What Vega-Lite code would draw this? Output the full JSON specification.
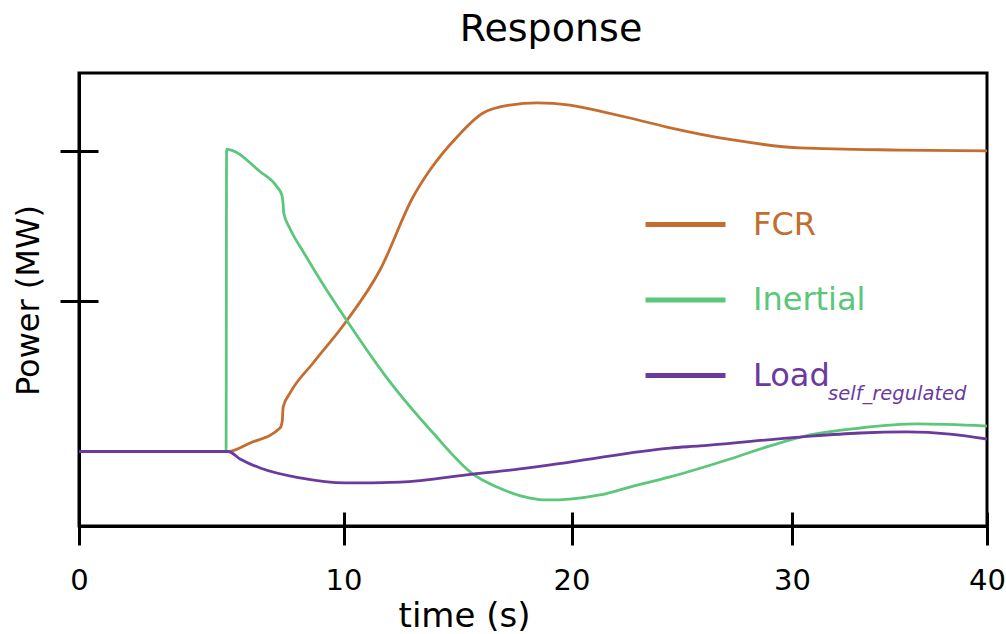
{
  "$schema": "https://vega.github.io/schema/vega-lite/v6.json",
  "autosize": "none",
  "width": 908,
  "height": 453,
  "padding": {"left": 79, "top": 73, "right": 19, "bottom": 108},
  "background": "white",
  "title": {
    "text": "Response",
    "font": "DejaVu Sans",
    "fontSize": 38,
    "fontWeight": "normal",
    "color": "black",
    "anchor": "middle",
    "baseline": "alphabetic",
    "dx": 18,
    "offset": -6
  },
  "config": {
    "view": {"stroke": "black", "strokeWidth": 3},
    "axis": {
      "grid": false,
      "domainColor": "black",
      "domainWidth": 3,
      "tickColor": "black",
      "tickWidth": 3,
      "labelFont": "DejaVu Sans",
      "titleFont": "DejaVu Sans",
      "labelColor": "black",
      "titleColor": "black",
      "titleFontWeight": "normal"
    }
  },
  "data": {
    "values": [
      {"t": 0, "p": 0, "series": "FCR"},
      {"t": 5.64, "p": 0, "series": "FCR"},
      {"t": 6.47, "p": 0.057, "series": "FCR"},
      {"t": 7.6, "p": 0.156, "series": "FCR"},
      {"t": 7.68, "p": 0.196, "series": "FCR"},
      {"t": 7.72, "p": 0.296, "series": "FCR"},
      {"t": 7.98, "p": 0.389, "series": "FCR"},
      {"t": 8.85, "p": 0.588, "series": "FCR"},
      {"t": 10.07, "p": 0.854, "series": "FCR"},
      {"t": 11.6, "p": 1.206, "series": "FCR"},
      {"t": 13.05, "p": 1.691, "series": "FCR"},
      {"t": 13.79, "p": 1.87, "series": "FCR"},
      {"t": 14.98, "p": 2.09, "series": "FCR"},
      {"t": 16.12, "p": 2.249, "series": "FCR"},
      {"t": 17.3, "p": 2.302, "series": "FCR"},
      {"t": 18.49, "p": 2.316, "series": "FCR"},
      {"t": 19.93, "p": 2.302, "series": "FCR"},
      {"t": 21.43, "p": 2.256, "series": "FCR"},
      {"t": 22.65, "p": 2.216, "series": "FCR"},
      {"t": 24.33, "p": 2.156, "series": "FCR"},
      {"t": 27.32, "p": 2.07, "series": "FCR"},
      {"t": 30.41, "p": 2.017, "series": "FCR"},
      {"t": 35.54, "p": 2.003, "series": "FCR"},
      {"t": 40, "p": 1.997, "series": "FCR"},

      {"t": 0, "p": 0, "series": "Inertial"},
      {"t": 5.56, "p": 0, "series": "Inertial"},
      {"t": 5.58, "p": 2.008, "series": "Inertial"},
      {"t": 6.85, "p": 1.859, "series": "Inertial"},
      {"t": 7.48, "p": 1.76, "series": "Inertial"},
      {"t": 7.67, "p": 1.704, "series": "Inertial"},
      {"t": 7.72, "p": 1.638, "series": "Inertial"},
      {"t": 7.74, "p": 1.585, "series": "Inertial"},
      {"t": 7.98, "p": 1.48, "series": "Inertial"},
      {"t": 8.47, "p": 1.33, "series": "Inertial"},
      {"t": 9.23, "p": 1.11, "series": "Inertial"},
      {"t": 10.07, "p": 0.887, "series": "Inertial"},
      {"t": 11.91, "p": 0.488, "series": "Inertial"},
      {"t": 13.93, "p": 0.123, "series": "Inertial"},
      {"t": 15.68, "p": -0.15, "series": "Inertial"},
      {"t": 16.73, "p": -0.236, "series": "Inertial"},
      {"t": 18.18, "p": -0.309, "series": "Inertial"},
      {"t": 18.93, "p": -0.322, "series": "Inertial"},
      {"t": 19.93, "p": -0.316, "series": "Inertial"},
      {"t": 21.29, "p": -0.289, "series": "Inertial"},
      {"t": 22.65, "p": -0.236, "series": "Inertial"},
      {"t": 24.47, "p": -0.169, "series": "Inertial"},
      {"t": 27.19, "p": -0.05, "series": "Inertial"},
      {"t": 29.0, "p": 0.037, "series": "Inertial"},
      {"t": 30.92, "p": 0.11, "series": "Inertial"},
      {"t": 33.49, "p": 0.156, "series": "Inertial"},
      {"t": 36.41, "p": 0.183, "series": "Inertial"},
      {"t": 40, "p": 0.169, "series": "Inertial"},

      {"t": 0, "p": 0, "series": "Load"},
      {"t": 5.64, "p": 0, "series": "Load"},
      {"t": 6.09, "p": -0.05, "series": "Load"},
      {"t": 6.85, "p": -0.11, "series": "Load"},
      {"t": 8.36, "p": -0.176, "series": "Load"},
      {"t": 10.07, "p": -0.209, "series": "Load"},
      {"t": 12.48, "p": -0.203, "series": "Load"},
      {"t": 15.68, "p": -0.15, "series": "Load"},
      {"t": 17.74, "p": -0.116, "series": "Load"},
      {"t": 19.93, "p": -0.07, "series": "Load"},
      {"t": 24.47, "p": 0.023, "series": "Load"},
      {"t": 25.83, "p": 0.037, "series": "Load"},
      {"t": 30.41, "p": 0.096, "series": "Load"},
      {"t": 33.49, "p": 0.123, "series": "Load"},
      {"t": 35.9, "p": 0.13, "series": "Load"},
      {"t": 38.1, "p": 0.116, "series": "Load"},
      {"t": 40, "p": 0.083, "series": "Load"}
    ]
  },
  "resolve": {"axis": {"x": "independent", "y": "independent"}},
  "layer": [
    {
      "mark": {"type": "line", "interpolate": "monotone", "strokeWidth": 2.8, "clip": true},
      "encoding": {
        "x": {
          "field": "t",
          "type": "quantitative",
          "scale": {"domain": [0, 10, 20, 30, 40], "range": [0, 264.5, 492.5, 713, 908], "nice": false, "zero": false},
          "axis": {
            "orient": "bottom",
            "values": [0, 10, 20, 30, 40],
            "tickSize": 19,
            "labelFontSize": 29,
            "labelPadding": 21,
            "labelFlush": false,
            "title": "time (s)",
            "titleFontSize": 34,
            "titleX": 385,
            "titleY": 100,
            "titleAlign": "center",
            "titleBaseline": "alphabetic"
          }
        },
        "y": {
          "field": "p",
          "type": "quantitative",
          "scale": {"domain": [-0.495, 2.515], "nice": false, "zero": false},
          "axis": {
            "orient": "left",
            "values": [1, 2],
            "tickSize": 19,
            "labels": false,
            "title": "Power (MW)",
            "titleFontSize": 32,
            "titleAngle": 270,
            "titleX": -51,
            "titleY": 227,
            "titleAlign": "center",
            "titleBaseline": "middle"
          }
        },
        "color": {
          "field": "series",
          "type": "nominal",
          "scale": {"domain": ["FCR", "Inertial", "Load"], "range": ["#c46d2f", "#5bc77a", "#6a3a9e"]},
          "legend": {
            "orient": "none",
            "legendX": 564,
            "legendY": 109,
            "title": null,
            "padding": 0,
            "symbolType": "stroke",
            "symbolSize": 6400,
            "symbolStrokeWidth": 5,
            "labelFont": "DejaVu Sans",
            "labelFontSize": 32,
            "labelOffset": 25,
            "labelLimit": 400,
            "rowPadding": 16.5,
            "encode": {"labels": {"update": {"fill": {"scale": "color", "field": "value"}}}}
          }
        }
      }
    },
    {
      "data": {"values": [{"sub": "self_regulated"}]},
      "mark": {"type": "text", "align": "left", "baseline": "alphabetic", "font": "DejaVu Sans", "fontStyle": "italic", "fontSize": 19.5, "fill": "#6a3a9e"},
      "encoding": {
        "x": {
          "datum": 31.85,
          "type": "quantitative",
          "axis": {"orient": "bottom", "values": [0, 10, 20, 30, 40], "tickSize": -14, "labels": false, "domain": false, "title": null}
        },
        "y": {
          "datum": 0.342,
          "type": "quantitative",
          "axis": {"orient": "left", "values": [1, 2], "tickSize": -19, "labels": false, "domain": false, "title": null}
        },
        "text": {"field": "sub"}
      }
    }
  ]
}
